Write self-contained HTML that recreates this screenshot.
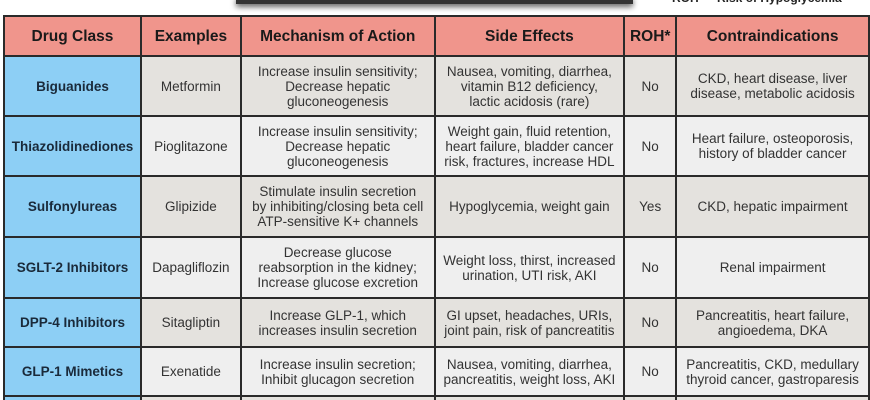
<!DOCTYPE html>
<html style="height:400px;overflow:hidden"><head><style>
body{margin:0;width:870px;height:400px;background:#fff;overflow:hidden;position:relative;font-family:"Liberation Sans",Arial,sans-serif;}
.bar{position:absolute;left:236px;top:-4px;width:397px;height:8px;background:#333;box-shadow:0 3px 6px rgba(0,0,0,.6);}
.note{position:absolute;left:672px;top:-9px;font-size:12px;font-weight:bold;color:#222;}
table{position:absolute;left:3px;top:15px;border-collapse:collapse;table-layout:fixed;}
td{border:2px solid #2a2a2a;text-align:center;vertical-align:middle;font-size:13.5px;line-height:15px;color:#333;padding:0 2px;}
tr.h td{background:#f0958c;font-weight:bold;font-size:15.5px;color:#1a1a1a;height:38px;}
td.c{background:#8dcff5;font-weight:bold;color:#1a2a3a;}
tr.a td:not(.c){background:#e4e2de;}
tr.b td:not(.c){background:#efefef;}
</style></head><body>
<div class="bar"></div>
<div class="note">ROH* = Risk of Hypoglycemia</div>
<table>
<colgroup><col style="width:137px"><col style="width:100px"><col style="width:194px"><col style="width:190px"><col style="width:52px"><col style="width:193px"></colgroup>
<tr class="h"><td>Drug Class</td><td>Examples</td><td>Mechanism of Action</td><td>Side Effects</td><td>ROH*</td><td>Contraindications</td></tr>
<tr class="a" style="height:60px"><td class="c">Biguanides</td><td>Metformin</td><td>Increase insulin sensitivity;<br>Decrease hepatic<br>gluconeogenesis</td><td>Nausea, vomiting, diarrhea,<br>vitamin B12 deficiency,<br>lactic acidosis (rare)</td><td>No</td><td>CKD, heart disease, liver<br>disease, metabolic acidosis</td></tr>
<tr class="b" style="height:60px"><td class="c">Thiazolidinediones</td><td>Pioglitazone</td><td>Increase insulin sensitivity;<br>Decrease hepatic<br>gluconeogenesis</td><td>Weight gain, fluid retention,<br>heart failure, bladder cancer<br>risk, fractures, increase HDL</td><td>No</td><td>Heart failure, osteoporosis,<br>history of bladder cancer</td></tr>
<tr class="a" style="height:61px"><td class="c">Sulfonylureas</td><td>Glipizide</td><td>Stimulate insulin secretion<br>by inhibiting/closing beta cell<br>ATP-sensitive K+ channels</td><td>Hypoglycemia, weight gain</td><td>Yes</td><td>CKD, hepatic impairment</td></tr>
<tr class="b" style="height:61px"><td class="c">SGLT-2 Inhibitors</td><td>Dapagliflozin</td><td>Decrease glucose<br>reabsorption in the kidney;<br>Increase glucose excretion</td><td>Weight loss, thirst, increased<br>urination, UTI risk, AKI</td><td>No</td><td>Renal impairment</td></tr>
<tr class="a" style="height:49px"><td class="c">DPP-4 Inhibitors</td><td>Sitagliptin</td><td>Increase GLP-1, which<br>increases insulin secretion</td><td>GI upset, headaches, URIs,<br>joint pain, risk of pancreatitis</td><td>No</td><td>Pancreatitis, heart failure,<br>angioedema, DKA</td></tr>
<tr class="b" style="height:49px"><td class="c">GLP-1 Mimetics</td><td>Exenatide</td><td>Increase insulin secretion;<br>Inhibit glucagon secretion</td><td>Nausea, vomiting, diarrhea,<br>pancreatitis, weight loss, AKI</td><td>No</td><td>Pancreatitis, CKD, medullary<br>thyroid cancer, gastroparesis</td></tr>
<tr class="a" style="height:20px"><td class="c"></td><td></td><td></td><td></td><td></td><td></td></tr>
</table>
</body></html>
